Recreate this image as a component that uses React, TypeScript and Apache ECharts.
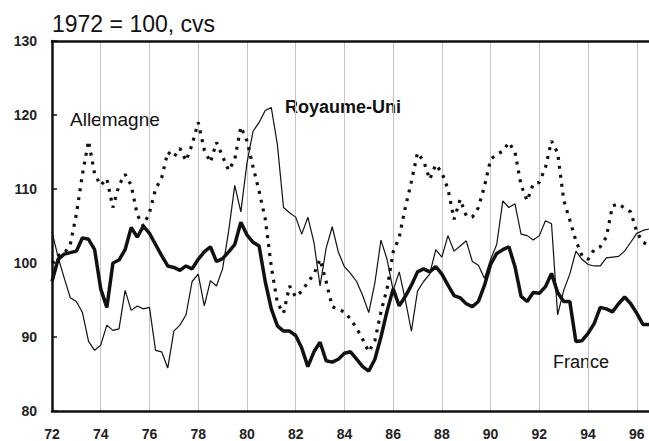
import React, { useEffect, useRef } from "react";
import * as echarts from "echarts";

// Quarterly indices, 1972 Q1 .. 1996 Q3 (1972 = 100, cvs)
const START_YEAR = 72;
const xTickYears = [72, 74, 76, 78, 80, 82, 84, 86, 88, 90, 92, 94, 96];
const yTicks = [80, 90, 100, 110, 120, 130];

const france = [
  97.5, 100.5, 101.2, 101.4,
  101.6, 103.4, 103.2, 101.8,
  96.5, 94.0, 100.0, 100.4,
  101.8, 104.8, 103.5, 105.0,
  104.0, 102.5, 101.0, 99.6,
  99.4, 99.0, 99.6, 99.2,
  100.5, 101.5, 102.2, 100.2,
  100.6, 101.5, 102.5, 105.5,
  103.8, 102.8, 102.3, 97.5,
  93.8, 91.5, 90.8, 90.8,
  90.2, 88.5, 86.0, 88.0,
  89.3, 86.8, 86.6, 87.0,
  87.8, 88.0, 87.0, 86.0,
  85.4, 87.0, 90.0, 93.5,
  96.5, 94.2, 95.5, 97.0,
  98.8, 99.2, 98.8, 99.5,
  98.5, 97.0, 95.6, 95.3,
  94.5, 94.1, 94.8, 97.0,
  99.8, 101.3, 101.8, 102.2,
  99.5, 95.5, 94.8, 96.0,
  95.9, 96.8, 98.6, 96.0,
  94.8, 94.8, 89.4, 89.5,
  90.5, 91.8, 94.0, 93.8,
  93.4, 94.5, 95.4, 94.5,
  93.2, 91.7, 91.7,
];

const royaumeUni = [
  104.2, 100.8, 98.0, 95.3,
  94.8, 93.3, 89.4, 88.2,
  88.9, 91.6, 90.9, 91.1,
  96.3, 93.6, 94.2, 93.8,
  94.0, 88.2, 88.0, 85.8,
  90.8, 91.6, 93.0, 97.5,
  98.5, 94.2, 97.6, 96.9,
  99.2, 104.3, 110.5, 106.9,
  113.5, 117.8, 119.0, 120.6,
  121.0, 116.0, 107.5, 106.8,
  106.2, 103.9, 106.2, 102.8,
  96.9, 102.0, 104.9, 101.5,
  99.5, 98.6, 97.5, 95.6,
  93.3, 97.3, 103.1, 100.5,
  96.3, 98.8, 95.0, 90.8,
  96.2, 97.5, 98.5, 101.8,
  100.8, 103.7, 101.6, 102.3,
  103.0, 100.2, 99.7, 97.9,
  100.5, 102.5, 108.4, 107.5,
  108.0, 103.9, 103.7, 103.1,
  103.7, 105.7, 105.3, 93.0,
  96.3, 98.5, 101.6, 100.5,
  99.8, 99.6, 99.6, 100.7,
  100.8, 100.9, 101.6, 102.8,
  104.0, 104.4, 104.6,
];

const allemagne = [
  100.0, 101.0, 101.3, 102.5,
  106.6, 112.0, 116.5, 112.0,
  110.5, 111.4, 107.5, 110.5,
  112.0, 110.5, 106.5, 105.0,
  106.8, 110.0, 111.5, 115.0,
  114.3, 115.5, 113.8, 116.0,
  119.0, 115.3, 113.6, 116.3,
  114.4, 112.5, 114.0, 118.4,
  116.5, 113.0, 109.7, 106.0,
  99.5, 94.6, 93.2, 96.9,
  95.4, 96.2, 97.4, 98.5,
  100.5, 97.5, 94.1, 93.7,
  93.4, 92.4, 91.2, 89.7,
  88.0, 89.5, 93.4, 96.5,
  101.5, 103.5, 107.5, 111.0,
  114.9, 113.8, 111.3, 113.3,
  112.2, 110.0, 105.9, 108.6,
  106.4, 106.2, 107.5, 110.4,
  114.0, 114.7, 115.1, 116.3,
  115.0, 110.5, 108.4, 110.7,
  110.9, 112.9, 116.5, 114.9,
  108.5, 105.8, 103.0, 101.0,
  100.5, 101.8, 102.2, 103.5,
  107.7, 108.0, 107.4, 106.9,
  104.2, 102.8, 102.4,
];

const quarters = france.map((_, i) => START_YEAR + i / 4);
const pairs = (vals: number[]) => vals.map((v, i) => [quarters[i], v]);

const FONT = "'Liberation Sans', Arial, Helvetica, sans-serif";
const INK = "#111";

export default function App() {
  const ref = useRef<HTMLDivElement>(null);

  useEffect(() => {
    if (!ref.current) return;
    const chart = echarts.init(ref.current, undefined, { renderer: "svg" });
    chart.setOption({
      animation: false,
      backgroundColor: "#fff",
      grid: { left: 52, right: 0, top: 41, bottom: 29 },
      xAxis: [
        {
          type: "value",
          min: xTickYears[0],
          max: 96.5,
          interval: 2,
          axisLine: { show: true, onZero: false, lineStyle: { color: INK, width: 2.5 } },
          axisTick: { show: false },
          splitLine: { show: true, lineStyle: { color: "#c4c4c4", width: 1 } },
          axisLabel: {
            formatter: (v: number) => (xTickYears.includes(v) ? String(v) : ""),
            fontFamily: FONT,
            fontWeight: "bold",
            fontSize: 14,
            color: "#222",
            margin: 16,
            showMaxLabel: false,
          },
        },
        {
          type: "value",
          position: "top",
          min: xTickYears[0],
          max: 96.5,
          interval: 2,
          axisLine: { show: true, onZero: false, lineStyle: { color: INK, width: 2.5 } },
          axisTick: { show: false },
          axisLabel: { show: false },
          splitLine: { show: false },
        },
      ],
      yAxis: {
        type: "value",
        min: yTicks[0],
        max: yTicks[yTicks.length - 1],
        interval: 10,
        axisLine: { show: true, onZero: false, lineStyle: { color: INK, width: 2.5 } },
        axisTick: { show: true, inside: true, length: 5, lineStyle: { color: INK, width: 1.5 } },
        splitLine: { show: false },
        axisLabel: {
          fontFamily: FONT,
          fontWeight: "bold",
          fontSize: 14,
          color: "#222",
          margin: 15,
        },
      },
      series: [
        {
          name: "Allemagne",
          type: "line",
          data: pairs(allemagne),
          showSymbol: false,
          lineStyle: { color: INK, width: 3.2, type: [3, 6], cap: "butt" },
          z: 2,
        },
        {
          name: "Royaume-Uni",
          type: "line",
          data: pairs(royaumeUni),
          showSymbol: false,
          lineStyle: { color: INK, width: 1.2 },
          z: 3,
        },
        {
          name: "France",
          type: "line",
          data: pairs(france),
          showSymbol: false,
          lineStyle: { color: INK, width: 3.5 },
          z: 4,
        },
      ],
      graphic: [
        {
          type: "text",
          left: 52,
          top: 12,
          style: { text: "1972 = 100, cvs", font: `23px ${FONT}`, fill: INK },
        },
        {
          type: "text",
          left: 70,
          top: 110,
          style: { text: "Allemagne", font: `19px ${FONT}`, fill: INK },
        },
        {
          type: "text",
          left: 285,
          top: 98,
          style: { text: "Royaume-Uni", font: `bold 18px ${FONT}`, fill: INK },
        },
        {
          type: "text",
          left: 553,
          top: 353,
          style: { text: "France", font: `18px ${FONT}`, fill: INK },
        },
      ],
    });
    return () => chart.dispose();
  }, []);

  return (
    <div
      ref={ref}
      style={{ position: "absolute", left: 0, top: 0, width: 649, height: 441 }}
    />
  );
}
